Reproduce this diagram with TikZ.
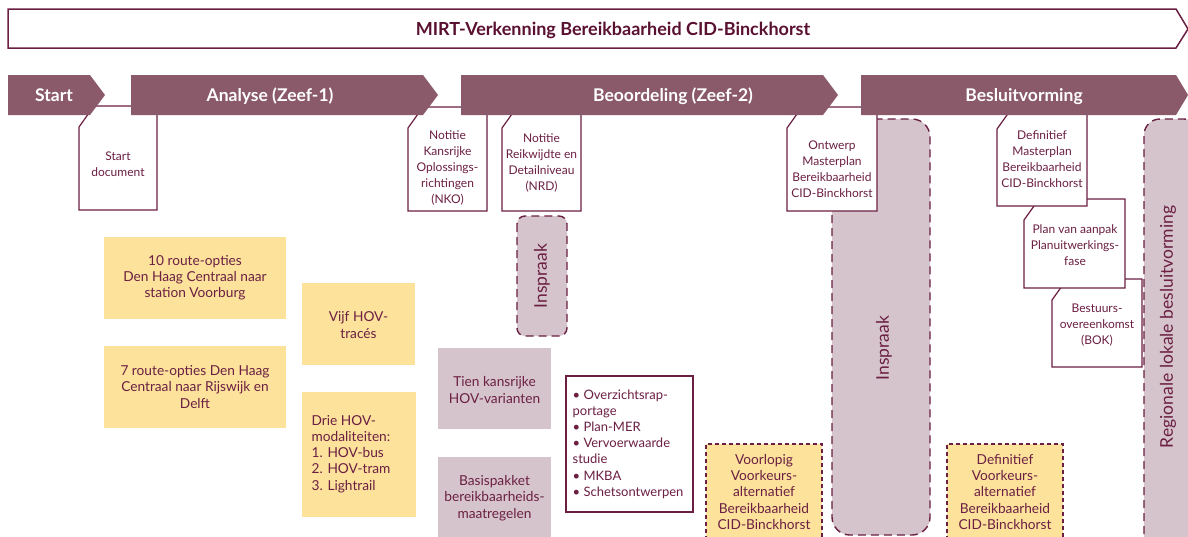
\documentclass[tikz,border=0pt]{standalone}
\usepackage{fontspec}
\setmainfont{Lato}
\usetikzlibrary{calc}
\definecolor{cmaroon}{HTML}{6B1F42}
\definecolor{ctitle}{HTML}{5A1030}
\definecolor{cphase}{HTML}{8A5A6A}
\definecolor{cmauve}{HTML}{D5C4CC}
\definecolor{cyellow}{HTML}{FDE29C}
\tikzset{
  every picture/.style={line width=1.3pt},
  phase/.style={fill=cphase, draw=none},
  phaselabel/.style={font=\fontsize{17.5}{20}\selectfont\bfseries, text=white, inner sep=0pt, anchor=base},
  doc/.style={draw=cmaroon, fill=white, line width=1.2pt, line join=miter},
  doctext/.style={font=\fontsize{12}{16}\selectfont, text=cmaroon, align=center, inner sep=0pt},
  boxtext/.style={font=\fontsize{13.7}{16.2}\selectfont, text=cmaroon, align=center, inner sep=0pt},
  listtext/.style={boxtext, font=\fontsize{13}{16.2}\selectfont, align=left, anchor=west},
  inspraak/.style={fill=cmauve, draw=cmaroon, dash pattern=on 8pt off 5pt, line width=1.4pt},
  vka/.style={fill=cyellow, draw=cmaroon, dash pattern=on 4pt off 3pt, line width=1.2pt},
  vertlabel/.style={font=\fontsize{17.5}{20}\selectfont, text=cmaroon, rotate=90, inner sep=0pt},
}
% document outline with a cut top-left corner
\newcommand{\docshape}[4]{%
  \draw[doc] (#1,#2+21) -- (#1+15,#2) -- (#3,#2) -- (#3,#4) -- (#1,#4) -- cycle;}

\begin{document}
\begin{tikzpicture}[x=1pt, y=-1pt]
  \clip (0,0) rectangle (1188,536);
  \fill[white] (0,0) rectangle (1188,536);

  % title bar
  \draw[cmaroon, fill=white, line width=1.5pt] (8,9) -- (1176,9) -- (1188,29) -- (1176,48) -- (8,48) -- cycle;
  \node[font=\fontsize{18}{21}\selectfont\bfseries, text=ctitle, inner sep=0pt, anchor=base] (title) at (613,35) {MIRT-Verkenning Bereikbaarheid CID-Binckhorst};

  % participation columns
  \draw[inspraak, rounded corners=18pt] (832,119) rectangle (930,535);
  \draw[inspraak, rounded corners=16pt] (1144,560) -- (1144,119) -- (1200,119) -- (1200,560);
  \draw[inspraak, rounded corners=8pt] (517,216) rectangle (567,336);

  % documents
  \docshape{79}{106}{157}{210}
  \docshape{408}{107}{487}{211}
  \docshape{502}{107}{581}{211}
  \docshape{787}{107}{877}{211}
  \docshape{1052}{279}{1142}{367}
  \docshape{1024}{199}{1125}{288}
  \docshape{997}{108}{1087}{206}

  % phase arrows
  \fill[phase] (8,75) -- (90,75) -- (105,95) -- (90,115) -- (8,115) -- cycle;
  \fill[phase] (131,75) -- (423,75) -- (438,95) -- (423,115) -- (131,115) -- cycle;
  \fill[phase] (461,75) -- (823,75) -- (838,95) -- (823,115) -- (461,115) -- cycle;
  \fill[phase] (861,75) -- (1176,75) -- (1188,95) -- (1176,115) -- (861,115) -- cycle;
  \node[phaselabel] (start) at (54,101) {Start};
  \node[phaselabel] (analyse) at (270,101) {Analyse (Zeef-1)};
  \node[phaselabel] (beoordeling) at (673,101) {Beoordeling (Zeef-2)};
  \node[phaselabel] (besluit) at (1024,101) {Besluitvorming};

  % option boxes
  \fill[cyellow] (104,237) rectangle (286,319);
  \fill[cyellow] (104,346) rectangle (286,428);
  \fill[cyellow] (302,283) rectangle (415,365);
  \fill[cyellow] (302,392) rectangle (416,517);
  \fill[cmauve] (438,348) rectangle (551,429);
  \fill[cmauve] (438,457) rectangle (551,540);
  \draw[cmaroon, fill=white, line width=1.2pt] (566,376) rectangle (693,512);
  \draw[vka] (706,540) -- (706,444) -- (822,444) -- (822,540);
  \draw[vka] (947,540) -- (947,444) -- (1063,444) -- (1063,540);

  % texts
  \node[doctext] (startdoc) at (118,164) {Start\\document};
  \node[doctext] (nko) at (447.5,168) {Notitie\\Kansrijke\\Oplossings-\\richtingen\\(NKO)};
  \node[doctext] (nrd) at (541.5,163) {Notitie\\Reikwijdte en\\Detailniveau\\(NRD)};
  \node[doctext] (ontwerp) at (832,169) {Ontwerp\\Masterplan\\Bereikbaarheid\\CID-Binckhorst};
  \node[doctext] (masterplan) at (1042,159) {Definitief\\Masterplan\\Bereikbaarheid\\CID-Binckhorst};
  \node[doctext] (pva) at (1075,245) {Plan van aanpak\\Planuitwerkings-\\fase};
  \node[doctext] (bok) at (1097,325) {Bestuurs-\\overeenkomst\\(BOK)};

  \node[boxtext] (routes10) at (195,278) {10 route-opties\\Den Haag Centraal naar\\station Voorburg};
  \node[boxtext] (routes7) at (195,387) {7 route-opties Den Haag\\Centraal naar Rijswijk en\\Delft};
  \node[boxtext] (traces) at (358.5,325) {Vijf HOV-\\trac\'es};
  \node[boxtext, align=left, anchor=west] (modaliteiten) at (311,454) {Drie HOV-\\modaliteiten:\\1. HOV-bus\\2. HOV-tram\\3. Lightrail};
  \node[boxtext] (varianten) at (494.5,390) {Tien kansrijke\\HOV-varianten};
  \node[boxtext] (basispakket) at (494.5,498) {Basispakket\\bereikbaarheids-\\maatregelen};
  \node[listtext] (producten) at (572,444) {• Overzichtsrap-\\portage\\• Plan-MER\\• Vervoerwaarde\\studie\\• MKBA\\• Schetsontwerpen};
  \node[boxtext] (vvka) at (764,492) {Voorlopig\\Voorkeurs-\\alternatief\\Bereikbaarheid\\CID-Binckhorst};
  \node[boxtext] (dvka) at (1005,492) {Definitief\\Voorkeurs-\\alternatief\\Bereikbaarheid\\CID-Binckhorst};

  \node[vertlabel] (inspraak1) at (542,276) {Inspraak};
  \node[vertlabel] (inspraak2) at (884,348) {Inspraak};
  \node[vertlabel] (regionaal) at (1168,327) {Regionale lokale besluitvorming};
\end{tikzpicture}
\end{document}
